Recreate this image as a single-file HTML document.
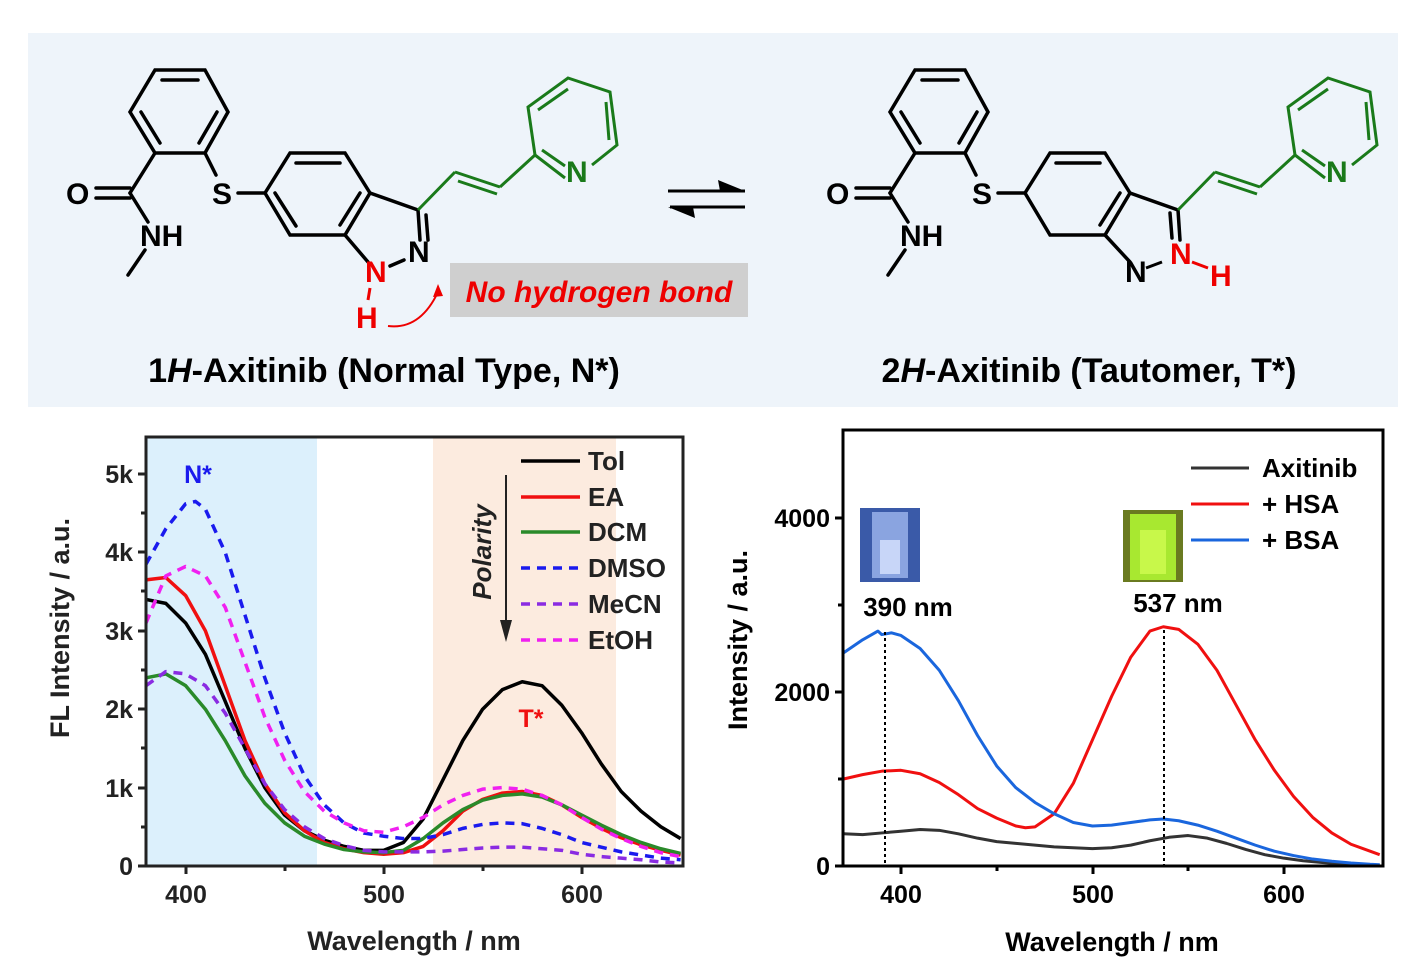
<!DOCTYPE html>
<html><head><meta charset="utf-8"><style>
html,body{margin:0;padding:0;background:#fff}
svg{display:block;font-family:"Liberation Sans",Arial,sans-serif}
</style></head><body>
<svg width="1417" height="972" viewBox="0 0 1417 972" xmlns="http://www.w3.org/2000/svg">
<rect x="28" y="33" width="1370" height="374" fill="#eef4fa"/>
<!-- left molecule -->
<g stroke="#000" stroke-width="3.5" fill="none" stroke-linecap="round">
<polygon points="155,70 205,70 228,112 205,153 155,153 130,112"/>
<line x1="162" y1="80" x2="198" y2="80"/><line x1="217" y1="112" x2="199" y2="143"/><line x1="141" y1="112" x2="160" y2="143"/>
<line x1="155" y1="153" x2="130" y2="193"/><line x1="130" y1="188" x2="96" y2="188"/><line x1="130" y1="198" x2="96" y2="198"/>
<line x1="130" y1="193" x2="148" y2="222"/><line x1="145" y1="250" x2="128" y2="275"/>
<line x1="205" y1="153" x2="216" y2="175"/><line x1="238" y1="193" x2="265" y2="193"/>
<polygon points="265,193 290,153 345,153 370,193 345,235 290,235"/>
<line x1="296" y1="163" x2="340" y2="163"/><line x1="360" y1="193" x2="340" y2="225"/><line x1="275" y1="193" x2="296" y2="226"/>
<line x1="370" y1="193" x2="418" y2="210"/><line x1="418" y1="210" x2="420" y2="240"/><line x1="426" y1="215" x2="428" y2="240"/>
<line x1="345" y1="235" x2="368" y2="262"/><line x1="390" y1="266" x2="404" y2="260"/>
</g>
<g stroke="#1a7a1a" stroke-width="3" fill="none">
<line x1="418" y1="210" x2="455" y2="172"/><line x1="455" y1="172" x2="500" y2="187"/><line x1="458" y1="181" x2="497" y2="194"/><line x1="500" y1="187" x2="535" y2="155"/>
<polyline points="565,178 535,155 528,107 568,78 610,92 617,145 592,165"/>
<line x1="538" y1="110" x2="568" y2="89"/><line x1="606" y1="102" x2="609" y2="140"/><line x1="542" y1="150" x2="565" y2="166"/>
</g>
<g font-size="30" font-weight="bold">
<text x="66" y="204">O</text><text x="140" y="246">NH</text><text x="212" y="204">S</text>
<text x="408" y="262">N</text><text x="566" y="182" fill="#1a7a1a">N</text>
<text x="365" y="282" fill="#e00">N</text><text x="356" y="328" fill="#e00">H</text>
</g>
<line x1="370" y1="288" x2="368" y2="300" stroke="#e00" stroke-width="3"/>
<path d="M388 326 Q420 330 438 292" stroke="#e00" stroke-width="2" fill="none"/><polygon points="438,284 433,297 443,296" fill="#e00"/>
<rect x="450" y="263" width="298" height="54" fill="#cfcfcf"/>
<text x="599" y="302" font-size="30" font-weight="bold" font-style="italic" fill="#e00" text-anchor="middle">No hydrogen bond</text>
<!-- equilibrium arrows -->
<g stroke="#000" stroke-width="3"><line x1="668" y1="191" x2="745" y2="191"/><line x1="670" y1="207" x2="745" y2="207"/></g>
<polygon points="745,191 718,180 720,191" fill="#000"/><polygon points="668,207 695,218 693,207" fill="#000"/>
<!-- right molecule -->
<g transform="translate(760,0)">
<g stroke="#000" stroke-width="3.5" fill="none" stroke-linecap="round">
<polygon points="155,70 205,70 228,112 205,153 155,153 130,112"/>
<line x1="162" y1="80" x2="198" y2="80"/><line x1="217" y1="112" x2="199" y2="143"/><line x1="141" y1="112" x2="160" y2="143"/>
<line x1="155" y1="153" x2="130" y2="193"/><line x1="130" y1="188" x2="96" y2="188"/><line x1="130" y1="198" x2="96" y2="198"/>
<line x1="130" y1="193" x2="148" y2="222"/><line x1="145" y1="250" x2="128" y2="275"/>
<line x1="205" y1="153" x2="216" y2="175"/><line x1="238" y1="193" x2="265" y2="193"/>
<polygon points="265,193 290,153 345,153 370,193 345,235 290,235"/>
<line x1="296" y1="163" x2="340" y2="163"/><line x1="360" y1="193" x2="340" y2="225"/>
<line x1="370" y1="193" x2="418" y2="210"/><line x1="418" y1="210" x2="420" y2="240"/><line x1="410" y1="213" x2="412" y2="238"/>
<line x1="345" y1="235" x2="370" y2="262"/>
</g>
<g stroke="#1a7a1a" stroke-width="3" fill="none">
<line x1="418" y1="210" x2="455" y2="172"/><line x1="455" y1="172" x2="500" y2="187"/><line x1="458" y1="181" x2="497" y2="194"/><line x1="500" y1="187" x2="535" y2="155"/>
<polyline points="565,178 535,155 528,107 568,78 610,92 617,145 592,165"/>
<line x1="538" y1="110" x2="568" y2="89"/><line x1="606" y1="102" x2="609" y2="140"/><line x1="542" y1="150" x2="565" y2="166"/>
</g>
<g font-size="30" font-weight="bold">
<text x="66" y="204">O</text><text x="140" y="246">NH</text><text x="212" y="204">S</text>
<text x="365" y="282">N</text><text x="566" y="182" fill="#1a7a1a">N</text>
<text x="410" y="264" fill="#e00">N</text><text x="450" y="286" fill="#e00">H</text>
</g>
<line x1="386" y1="268" x2="402" y2="262" stroke="#000" stroke-width="3"/>
<line x1="432" y1="262" x2="448" y2="268" stroke="#e00" stroke-width="3"/>
</g>
<text x="384" y="382" font-size="34" font-weight="bold" text-anchor="middle">1<tspan font-style="italic">H</tspan>-Axitinib (Normal Type, N*)</text>
<text x="1089" y="382" font-size="34" font-weight="bold" text-anchor="middle">2<tspan font-style="italic">H</tspan>-Axitinib (Tautomer, T*)</text>

<!-- LEFT CHART -->
<rect x="146" y="437" width="171" height="429" fill="#dcf0fc"/>
<rect x="433" y="437" width="183" height="429" fill="#fcebdf"/>
<g transform="translate(146,866) scale(1.98,-78.4)" fill="none" stroke-width="3.5" stroke-linejoin="round">
<polyline vector-effect="non-scaling-stroke" stroke="#000" points="0,3.4 10,3.35 20,3.1 30,2.7 40,2.1 50,1.5 60,1.0 70,0.65 80,0.45 90,0.33 100,0.25 110,0.2 120,0.2 130,0.3 140,0.6 150,1.1 160,1.6 170,2.0 180,2.25 190,2.35 200,2.3 210,2.05 220,1.7 230,1.3 240,0.95 250,0.7 260,0.5 270,0.35"/>
<polyline vector-effect="non-scaling-stroke" stroke="#f01010" points="0,3.65 10,3.68 20,3.45 30,3.0 40,2.3 50,1.6 60,1.05 70,0.68 80,0.45 90,0.3 100,0.22 110,0.17 120,0.15 130,0.17 140,0.25 150,0.45 160,0.7 170,0.85 180,0.93 190,0.95 200,0.9 210,0.78 220,0.62 230,0.48 240,0.36 250,0.27 260,0.2 270,0.14"/>
<polyline vector-effect="non-scaling-stroke" stroke="#2a8a2a" points="0,2.4 10,2.45 20,2.3 30,2.0 40,1.6 50,1.15 60,0.8 70,0.55 80,0.38 90,0.28 100,0.21 110,0.18 120,0.17 130,0.2 140,0.35 150,0.55 160,0.72 170,0.84 180,0.9 190,0.92 200,0.88 210,0.78 220,0.65 230,0.52 240,0.4 250,0.3 260,0.22 270,0.16"/>
<polyline vector-effect="non-scaling-stroke" stroke="#1a1aee" stroke-dasharray="9,7" points="0,3.85 10,4.3 20,4.62 25,4.65 30,4.55 40,4.0 50,3.2 60,2.4 70,1.7 80,1.15 90,0.78 100,0.55 110,0.42 120,0.38 130,0.35 140,0.35 150,0.4 160,0.48 170,0.53 180,0.55 190,0.54 200,0.48 210,0.4 220,0.3 230,0.24 240,0.18 250,0.14 260,0.1 270,0.08"/>
<polyline vector-effect="non-scaling-stroke" stroke="#8a2be2" stroke-dasharray="9,7" points="0,2.3 10,2.48 20,2.45 30,2.3 40,1.95 50,1.5 60,1.05 70,0.72 80,0.5 90,0.35 100,0.26 110,0.2 120,0.18 130,0.18 140,0.18 150,0.19 160,0.21 170,0.23 180,0.24 190,0.24 200,0.22 210,0.2 220,0.15 230,0.12 240,0.1 250,0.08 260,0.05 270,0.04"/>
<polyline vector-effect="non-scaling-stroke" stroke="#f020f0" stroke-dasharray="9,7" points="0,3.1 10,3.7 20,3.82 30,3.7 40,3.3 50,2.6 60,1.9 70,1.35 80,0.95 90,0.7 100,0.55 110,0.45 120,0.43 130,0.5 140,0.62 150,0.78 160,0.9 170,0.98 180,1.0 190,0.98 200,0.9 210,0.78 220,0.62 230,0.47 240,0.35 250,0.25 260,0.17 270,0.12"/>
</g>
<rect x="146" y="437" width="537" height="429" fill="none" stroke="#222" stroke-width="3"/>
<g stroke="#222" stroke-width="3">
<line x1="146" y1="474" x2="138" y2="474"/><line x1="146" y1="552" x2="138" y2="552"/><line x1="146" y1="631" x2="138" y2="631"/><line x1="146" y1="709" x2="138" y2="709"/><line x1="146" y1="788" x2="138" y2="788"/><line x1="146" y1="866" x2="138" y2="866"/>
<line x1="186" y1="866" x2="186" y2="874"/><line x1="384" y1="866" x2="384" y2="874"/><line x1="582" y1="866" x2="582" y2="874"/>
<line x1="285" y1="866" x2="285" y2="871"/><line x1="483" y1="866" x2="483" y2="871"/>
<line x1="146" y1="513" x2="141" y2="513"/><line x1="146" y1="591" x2="141" y2="591"/><line x1="146" y1="670" x2="141" y2="670"/><line x1="146" y1="748" x2="141" y2="748"/><line x1="146" y1="827" x2="141" y2="827"/>
</g>
<g font-size="25" font-weight="bold" fill="#222" text-anchor="end">
<text x="133" y="483">5k</text><text x="133" y="561">4k</text><text x="133" y="640">3k</text><text x="133" y="718">2k</text><text x="133" y="797">1k</text><text x="133" y="875">0</text>
</g>
<g font-size="25" font-weight="bold" fill="#222" text-anchor="middle">
<text x="186" y="903">400</text><text x="384" y="903">500</text><text x="582" y="903">600</text>
<text x="414" y="950" font-size="27">Wavelength / nm</text>
</g>
<text transform="translate(69,628) rotate(-90)" font-size="27" font-weight="bold" text-anchor="middle" fill="#222">FL Intensity / a.u.</text>
<text x="198" y="483" font-size="25" font-weight="bold" fill="#1a1aee" text-anchor="middle">N*</text>
<text x="531" y="727" font-size="25" font-weight="bold" fill="#f01010" text-anchor="middle">T*</text>
<g stroke-width="3.5">
<line x1="521" y1="461" x2="580" y2="461" stroke="#000"/>
<line x1="521" y1="497" x2="580" y2="497" stroke="#f01010"/>
<line x1="521" y1="532" x2="580" y2="532" stroke="#2a8a2a"/>
<line x1="521" y1="568" x2="580" y2="568" stroke="#1a1aee" stroke-dasharray="9,7"/>
<line x1="521" y1="604" x2="580" y2="604" stroke="#8a2be2" stroke-dasharray="9,7"/>
<line x1="521" y1="640" x2="580" y2="640" stroke="#f020f0" stroke-dasharray="9,7"/>
</g>
<g font-size="26" font-weight="bold" fill="#222">
<text x="588" y="470">Tol</text><text x="588" y="506">EA</text><text x="588" y="541">DCM</text><text x="588" y="577">DMSO</text><text x="588" y="613">MeCN</text><text x="588" y="649">EtOH</text>
</g>
<line x1="506" y1="475" x2="506" y2="625" stroke="#222" stroke-width="2"/>
<polygon points="500,620 512,620 506,642" fill="#222"/>
<text transform="translate(491,552) rotate(-90)" font-size="26" font-weight="bold" font-style="italic" text-anchor="middle" fill="#222">Polarity</text>

<!-- RIGHT CHART -->
<g transform="translate(843.5,866) scale(1.915,-0.087)" fill="none" stroke-width="3" stroke-linejoin="round">
<polyline vector-effect="non-scaling-stroke" stroke="#333" points="0,370 10,360 20,380 30,400 40,420 50,410 60,370 70,320 80,280 90,260 100,240 110,220 120,210 130,200 140,210 150,240 160,290 170,330 180,350 190,320 200,260 210,190 220,130 230,90 240,60 250,40 260,25 270,15 280,10"/>
<polyline vector-effect="non-scaling-stroke" stroke="#f01010" points="0,1000 10,1050 20,1090 30,1100 40,1060 50,960 60,820 70,660 80,550 90,460 95,440 100,450 110,600 120,950 130,1450 140,1950 150,2400 160,2700 167,2750 175,2720 185,2550 195,2250 205,1850 215,1450 225,1100 235,800 245,560 255,380 265,250 275,170 280,130"/>
<polyline vector-effect="non-scaling-stroke" stroke="#1a66dd" points="0,2450 10,2600 18,2700 20,2660 25,2680 30,2650 40,2500 50,2250 60,1900 70,1500 80,1150 90,900 100,730 110,600 120,500 130,460 140,470 150,500 160,530 167,540 175,520 185,470 195,400 205,320 215,240 225,170 235,120 245,80 255,55 265,35 275,20 280,15"/>
</g>
<line x1="885" y1="632" x2="885" y2="866" stroke="#000" stroke-width="2" stroke-dasharray="3,3"/>
<line x1="1164" y1="630" x2="1164" y2="866" stroke="#000" stroke-width="2" stroke-dasharray="3,3"/>
<rect x="843" y="430" width="540" height="436" fill="none" stroke="#000" stroke-width="3"/>
<g stroke="#000" stroke-width="3">
<line x1="843" y1="518" x2="835" y2="518"/><line x1="843" y1="692" x2="835" y2="692"/><line x1="843" y1="866" x2="835" y2="866"/>
<line x1="843" y1="605" x2="838" y2="605"/><line x1="843" y1="779" x2="838" y2="779"/>
<line x1="901" y1="866" x2="901" y2="874"/><line x1="1093" y1="866" x2="1093" y2="874"/><line x1="1284" y1="866" x2="1284" y2="874"/>
<line x1="997" y1="866" x2="997" y2="871"/><line x1="1188" y1="866" x2="1188" y2="871"/>
</g>
<g font-size="25" font-weight="bold" text-anchor="end">
<text x="830" y="527">4000</text><text x="830" y="701">2000</text><text x="830" y="875">0</text>
</g>
<g font-size="25" font-weight="bold" text-anchor="middle">
<text x="901" y="903">400</text><text x="1093" y="903">500</text><text x="1284" y="903">600</text>
<text x="1112" y="951" font-size="27">Wavelength / nm</text>
</g>
<text transform="translate(747,640) rotate(-90)" font-size="27" font-weight="bold" text-anchor="middle">Intensity / a.u.</text>
<rect x="860" y="508" width="60" height="74" fill="#3a5aa8"/><rect x="872" y="512" width="36" height="66" fill="#8aa4e0"/><rect x="880" y="540" width="20" height="34" fill="#c8d6f8"/>
<rect x="1123" y="510" width="60" height="72" fill="#6a7a20"/><rect x="1130" y="514" width="46" height="66" fill="#a8e830"/><rect x="1140" y="530" width="26" height="44" fill="#c8f84a"/>
<text x="908" y="616" font-size="26" font-weight="bold" text-anchor="middle">390 nm</text>
<text x="1178" y="612" font-size="26" font-weight="bold" text-anchor="middle">537 nm</text>
<g stroke-width="3">
<line x1="1191" y1="468" x2="1249" y2="468" stroke="#333"/>
<line x1="1191" y1="504" x2="1249" y2="504" stroke="#f01010"/>
<line x1="1191" y1="540" x2="1249" y2="540" stroke="#1a66dd"/>
</g>
<g font-size="26" font-weight="bold">
<text x="1262" y="477">Axitinib</text><text x="1262" y="513">+ HSA</text><text x="1262" y="549">+ BSA</text>
</g>
</svg>
</body></html>
